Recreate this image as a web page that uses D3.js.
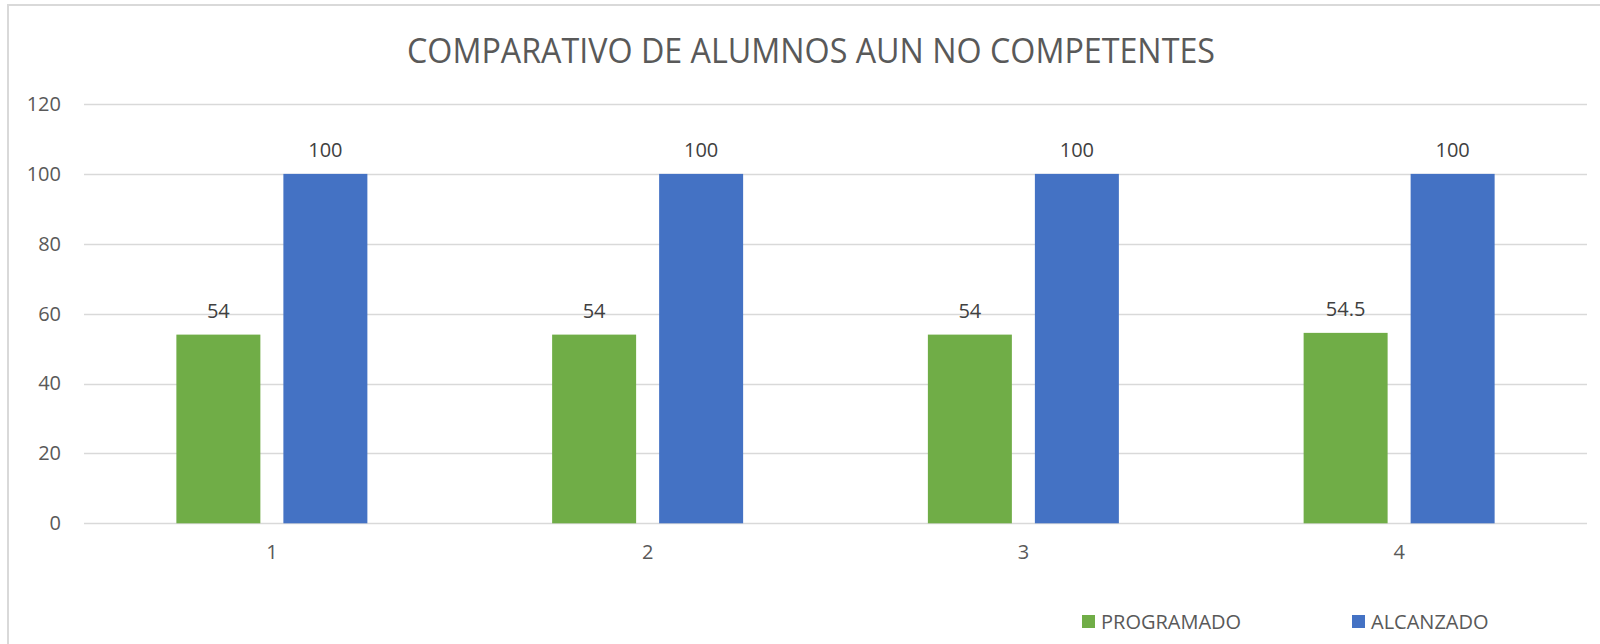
<!DOCTYPE html>
<html>
<head>
<meta charset="utf-8">
<script src="https://cdn.jsdelivr.net/npm/d3@7"></script>
<style>
  html, body { margin: 0; padding: 0; background: #fff; }
  svg { display: block; font-family: "Open Sans", "Noto Sans", sans-serif; }
</style>
</head>
<body>
<svg id="chart" width="1600" height="644"></svg>
<script>
const title = "COMPARATIVO DE ALUMNOS AUN NO COMPETENTES"
const categories = ["1", "2", "3", "4"]
const seriesNames = ["PROGRAMADO", "ALCANZADO"]
const programado = [54, 54, 54, 54.5]
const alcanzado = [100, 100, 100, 100]
const yTicks = [0, 20, 40, 60, 80, 100, 120]
const colors = ["#70ad47", "#4472c4"]

const svg = d3.select("#chart")
const textColor = "#595959"
const gridColor = "#d9d9d9"

// chart frame (cut off on the right and bottom, as in the picture)
svg.append("rect")
    .attr("x", 8).attr("y", 5)
    .attr("width", 1620).attr("height", 660)
    .attr("fill", "none")
    .attr("stroke", gridColor)
    .attr("stroke-width", 2)

const plot = { left: 84, right: 1587, top: 104, bottom: 523.3 }

const x0 = d3.scaleBand()
    .domain(categories)
    .range([plot.left, plot.right])
    .padding(0)

const groupW = 191
const x1 = d3.scaleBand()
    .domain(seriesNames)
    .range([0, groupW])
    .paddingInner(0.215)

const y = d3.scaleLinear()
    .domain([0, 120])
    .range([plot.bottom, plot.top])

// gridlines
svg.append("g")
    .selectAll("line")
    .data(yTicks)
    .join("line")
    .attr("x1", plot.left).attr("x2", plot.right)
    .attr("y1", d => Math.round(y(d)) + 0.5)
    .attr("y2", d => Math.round(y(d)) + 0.5)
    .attr("stroke", gridColor)
    .attr("stroke-width", 1.5)

// y axis labels
const yAxis = svg.append("g")
    .attr("transform", `translate(${plot.left - 23},0)`)
    .call(d3.axisLeft(y).tickValues(yTicks).tickSize(0).tickPadding(0))
yAxis.select(".domain").remove()
yAxis.selectAll("text")
    .attr("fill", textColor)
    .style("font-size", "20px")
    .style("font-family", "'Open Sans', sans-serif")

// x axis labels
const xAxis = svg.append("g")
    .attr("transform", `translate(0,${plot.bottom})`)
    .call(d3.axisBottom(x0).tickSize(0).tickPadding(22))
xAxis.select(".domain").remove()
xAxis.selectAll("text")
    .attr("fill", textColor)
    .style("font-size", "20px")
    .style("font-family", "'Open Sans', sans-serif")

const rows = categories.map((c, i) => ({
    cat: c,
    values: [
        { name: seriesNames[0], value: programado[i] },
        { name: seriesNames[1], value: alcanzado[i] }
    ]
}))

const groups = svg.append("g")
    .selectAll("g")
    .data(rows)
    .join("g")
    .attr("transform", d => `translate(${x0(d.cat) + (x0.bandwidth() - groupW) / 2},0)`)

groups.selectAll("rect")
    .data(d => d.values)
    .join("rect")
    .attr("x", d => x1(d.name))
    .attr("width", x1.bandwidth())
    .attr("y", d => y(d.value))
    .attr("height", d => y(0) - y(d.value))
    .attr("fill", (d, i) => colors[i])

groups.selectAll("text")
    .data(d => d.values)
    .join("text")
    .attr("x", d => x1(d.name) + x1.bandwidth() / 2)
    .attr("y", d => y(d.value) - 17)
    .attr("text-anchor", "middle")
    .attr("fill", "#404040")
    .style("font-size", "20px")
    .text(d => d.value)

// title
svg.append("text")
    .attr("x", 811)
    .attr("y", 63)
    .attr("text-anchor", "middle")
    .attr("fill", textColor)
    .style("font-size", "34px")
    .attr("textLength", 808)
    .attr("lengthAdjust", "spacingAndGlyphs")
    .text(title)

// legend
const legendX = [1082, 1352]
const legend = svg.append("g")
    .selectAll("g")
    .data(seriesNames)
    .join("g")
    .attr("transform", (d, i) => `translate(${legendX[i]},615)`)

legend.append("rect")
    .attr("width", 13).attr("height", 13)
    .attr("fill", (d, i) => colors[i])

legend.append("text")
    .attr("x", 19)
    .attr("y", 14)
    .attr("fill", textColor)
    .style("font-size", "20px")
    .text(d => d)
</script>
</body>
</html>
